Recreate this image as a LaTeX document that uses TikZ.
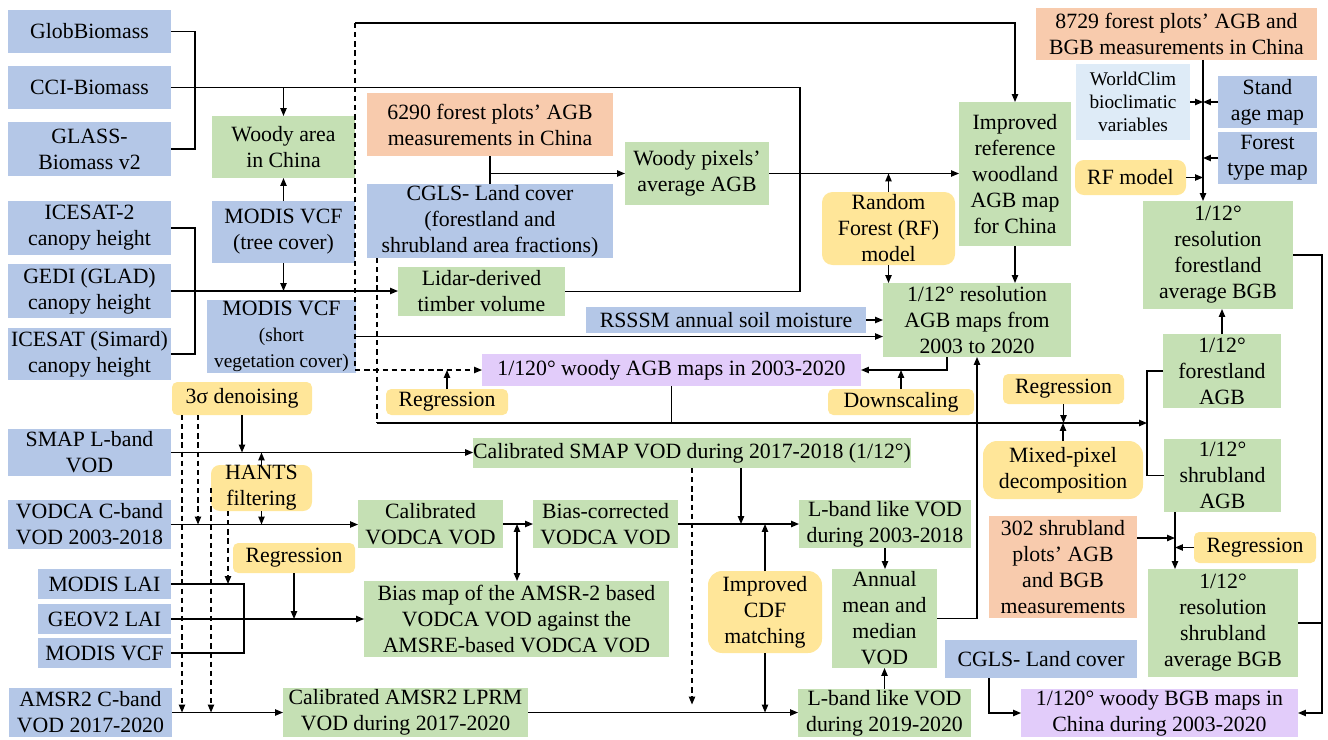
\documentclass[tikz,border=0pt]{standalone}
\usepackage{fontspec}
\setmainfont{Liberation Serif}
\usepackage{tikz}
\usetikzlibrary{arrows.meta,calc}
\usepackage{xcolor}
\definecolor{cblue}{HTML}{B4C7E7}
\definecolor{cgreen}{HTML}{C5E0B4}
\definecolor{corange}{HTML}{F8CBAD}
\definecolor{cyellow}{HTML}{FFE699}
\definecolor{cpurple}{HTML}{E2CCFA}
\definecolor{clight}{HTML}{DEEBF7}
\newcommand{\smallfnt}{\fontsize{11}{13}\selectfont}
\tikzset{
  box/.style={inner sep=0pt, outer sep=0pt, align=center},
  sz/.style 2 args={minimum width=#1*0.02cm, minimum height=#2*0.02cm},
  blubox/.style={box, fill=cblue},
  grnbox/.style={box, fill=cgreen},
  orgbox/.style={box, fill=corange},
  purbox/.style={box, fill=cpurple},
  lbbox/.style={box, fill=clight},
  ylwbox/.style={box, fill=cyellow, rounded corners=3pt},
  arr/.style={-{Triangle[length=4.5pt,width=3.6pt]}},
  arrboth/.style={{Triangle[length=4.5pt,width=3.6pt]}-{Triangle[length=4.5pt,width=3.6pt]}},
  dline/.style={dash pattern=on 3pt off 2.2pt},
  darr/.style={arr, dline},
}

\begin{document}
\begin{tikzpicture}[x=0.02cm, y=-0.02cm, line width=0.7pt, font=\fontsize{12.4}{14.8}\selectfont]
\useasboundingbox (0,0) rectangle (1328,740);
% biomass and canopy height products
\node[blubox, sz={163}{43}] (glob) at (89.5,31.5) {GlobBiomass};
\node[blubox, sz={163}{43}] (cci) at (89.5,87.5) {CCI-Biomass};
\node[blubox, sz={163}{54}] (glass) at (89.5,149) {GLASS-\\Biomass v2};
\node[blubox, sz={163}{54}] (ice2) at (89.5,228) {ICESAT-2\\canopy height};
\node[blubox, sz={163}{54}] (gedi) at (89.5,291) {GEDI (GLAD)\\canopy height};
\node[blubox, sz={163}{52}] (simard) at (89.5,354) {ICESAT (Simard)\\canopy height};
\node[grnbox, sz={143}{62}] (woody) at (283.5,147) {Woody area\\in China};
\node[blubox, sz={143}{62}] (vcft) at (283.5,232) {MODIS VCF\\(tree cover)};
\node[blubox, sz={149}{73}] (vcfs) at (281.5,336.5) {MODIS VCF\\{\smallfnt (short}\\{\smallfnt vegetation cover)}};
% AGB part
\node[orgbox, sz={246}{63}] (p6290) at (490,124.5) {6290 forest plots’ AGB\\measurements in China};
\node[blubox, sz={246}{74}] (cgls) at (490,221) {CGLS- Land cover\\(forestland and\\shrubland area fractions)};
\node[grnbox, sz={144}{63}] (wpix) at (697,173.5) {Woody pixels’\\average AGB};
\node[grnbox, sz={167}{49}] (lidar) at (481.5,291.5) {Lidar-derived\\timber volume};
\node[grnbox, sz={112}{144}] (impr) at (1015,174) {Improved\\reference\\woodland\\AGB map\\for China};
\node[ylwbox, rounded corners=6pt, sz={133}{73}] (rf) at (888.5,228.5) {Random\\Forest (RF)\\model};
\node[grnbox, sz={188}{74}] (agb12) at (977,320) {1/12° resolution\\AGB maps from\\2003 to 2020};
\node[blubox, sz={280}{26}] (rsssm) at (726,320) {RSSSM annual soil moisture};
\node[purbox, sz={379}{32}] (w120) at (671.5,370) {1/120° woody AGB maps in 2003-2020};
\node[ylwbox, sz={122}{26}] (regl) at (447,402) {Regression};
\node[ylwbox, sz={146}{26}] (down) at (901,402) {Downscaling};
% BGB part
\node[orgbox, sz={281}{52}] (p8729) at (1176.5,34) {8729 forest plots’ AGB and\\BGB measurements in China};
\node[lbbox, sz={114}{76}, font=\smallfnt] (wclim) at (1133,102) {WorldClim\\bioclimatic\\variables};
\node[blubox, sz={99}{52}] (stand) at (1267.5,102) {Stand\\age map};
\node[blubox, sz={99}{52}] (ftype) at (1267.5,158) {Forest\\type map};
\node[ylwbox, rounded corners=5pt, sz={111}{35}] (rfm) at (1130.5,177.5) {RF model};
\node[grnbox, sz={150}{108}] (fbgb) at (1218,255) {1/12°\\resolution\\forestland\\average BGB};
\node[grnbox, sz={118}{74}] (fagb) at (1222,371) {1/12°\\forestland\\AGB};
\node[grnbox, sz={117}{73}] (sagb) at (1222.5,475.5) {1/12°\\shrubland\\AGB};
\node[ylwbox, sz={121}{30}] (regm) at (1063.5,389) {Regression};
\node[ylwbox, rounded corners=8pt, sz={160}{58}] (mixed) at (1063,470) {Mixed-pixel\\decomposition};
\node[orgbox, sz={148}{102}] (p302) at (1063,567) {302 shrubland\\plots’ AGB\\and BGB\\measurements};
\node[ylwbox, sz={122}{31}] (regr) at (1255,547.5) {Regression};
\node[grnbox, sz={150}{108}] (sbgb) at (1223,623) {1/12°\\resolution\\shrubland\\average BGB};
\node[blubox, sz={192}{38}] (cgls2) at (1041,659) {CGLS- Land cover};
\node[purbox, sz={277}{48}] (bgb120) at (1159.5,713) {1/120° woody BGB maps in\\China during 2003-2020};
% VOD part
\node[ylwbox, sz={140}{33}] (denoise) at (242,398.5) {3σ denoising};
\node[blubox, sz={163}{47}] (smap) at (89.5,452.5) {SMAP L-band\\VOD};
\node[ylwbox, rounded corners=5pt, sz={101}{46}] (hants) at (261.5,488) {HANTS\\filtering};
\node[blubox, sz={163}{49}] (vodca) at (89.5,524.5) {VODCA C-band\\VOD 2003-2018};
\node[ylwbox, sz={122}{30}] (regv) at (294,558) {Regression};
\node[blubox, sz={133}{30}] (mlai) at (104.5,584) {MODIS LAI};
\node[blubox, sz={133}{30}] (geov) at (104.5,619) {GEOV2 LAI};
\node[blubox, sz={133}{30}] (mvcf) at (104.5,653) {MODIS VCF};
\node[blubox, sz={163}{49}] (amsr) at (90.5,712.5) {AMSR2 C-band\\VOD 2017-2020};
\node[grnbox, sz={430}{30}] (calsmap) at (692,453) {Calibrated SMAP VOD during 2017-2018 (1/12°)};
\node[grnbox, sz={145}{48}] (calvodca) at (430.5,524) {Calibrated\\VODCA VOD};
\node[grnbox, sz={145}{48}] (bcorr) at (605.5,524) {Bias-corrected\\VODCA VOD};
\node[grnbox, sz={305}{76}] (bias) at (516.5,619) {Bias map of the AMSR-2 based\\VODCA VOD against the\\AMSRE-based VODCA VOD};
\node[ylwbox, rounded corners=8pt, sz={114}{82}] (cdf) at (765,612) {Improved\\CDF\\matching};
\node[grnbox, sz={172}{48}] (lb0318) at (885,524) {L-band like VOD\\during 2003-2018};
\node[grnbox, sz={105}{99}] (annual) at (884.5,618.5) {Annual\\mean and\\median\\VOD};
\node[grnbox, sz={173}{48}] (lb1920) at (884.5,713) {L-band like VOD\\during 2019-2020};
\node[grnbox, sz={245}{49}] (calamsr) at (405.5,712.5) {Calibrated AMSR2 LPRM\\VOD during 2017-2020};

% junction points
\coordinate (bioj) at (195,87.5);
\coordinate (biotr) at (800,87.5);
\coordinate (lidj) at (195,291);
\coordinate (dtop) at (355,23);
\coordinate (cglsd) at (377,423);
\coordinate (brk) at (1147,423);
\coordinate (agbo) at (947,357);
\coordinate (rfx) at (1203,60);
\coordinate (shx) at (1175,512);
\coordinate (s302) at (1175,538);
\coordinate (rbx) at (1322,713);
\coordinate (cg2x) at (989,678);
\coordinate (dn1) at (182,415);
\coordinate (dn2) at (198,415);
\coordinate (hn) at (228,511);
\coordinate (laix) at (244,619);
\coordinate (bj) at (517,524);
\coordinate (smo) at (741,468);

% woody area and lidar
\draw (glob.east) -| (bioj) |- (glass.east);
\draw (cci.east) -- (biotr) |- (lidar.east);
\draw[arr] (woody.north |- cci.east) -- (woody.north);
\draw[arr] (vcft.north) -- (woody.south);
\draw[arr] (vcft.south) -- (vcft.south |- gedi.east);
\draw (ice2.east) -| (lidj) |- (simard.east);
\draw[arr] (gedi.east) -- (gedi.east -| lidar.west);
\draw[arr] (dtop) -| (impr.north);
\draw[darr] (dtop) |- (w120.west);
% AGB maps
\draw (p6290.south) -- (cgls.north);
\draw[arr] (p6290.south |- wpix.west) -- (wpix.west);
\draw[arr] (wpix.east) -- (wpix.east -| impr.west);
\draw[arr] (rf.north) -- (rf.north |- wpix.east);
\draw[arr] (rf.south) -- (rf.south |- agb12.north);
\draw[arr] (impr.south) -- (impr.south |- agb12.north);
\draw[arr] (rsssm.east) -- (rsssm.east -| agb12.west);
\draw[arr] (vcfs.east) -- (vcfs.east -| agb12.west);
\draw[arr] (agbo) |- (w120.east);
\draw[arr] (down.north) -- (down.north |- w120.east);
\draw[arr] (regl.north) -- (regl.north |- w120.west);
\draw[arr] (annual.east) -| (agb12.south);
% mixed pixels
\draw[dline] (cgls.south -| cglsd) -- (cglsd);
\draw[arr] (cglsd) -- (brk);
\draw (fagb.west) -| (brk) |- (sagb.west);
\draw (w120.south) -- (w120.south |- cglsd);
\draw[arr] (regm.south) -- (regm.south |- brk);
\draw[arr] (mixed.north) -- (mixed.north |- brk);
% BGB maps
\draw[arr] (rfx) -- (rfx |- fbgb.north);
\draw[arr] (wclim.east) -- (wclim.east -| rfx);
\draw[arr] (stand.west) -- (stand.west -| rfx);
\draw[arr] (ftype.west) -- (ftype.west -| rfx);
\draw[arr] (rfm.east) -- (rfm.east -| rfx);
\draw[arr] (fagb.north) -- (fagb.north |- fbgb.south);
\draw[arr] (shx) -- (shx |- sbgb.north);
\draw[arr] (p302.east |- s302) -- (s302);
\draw[arr] (regr.west) -- (regr.west -| shx);
\draw[arr] (fbgb.east) -| (rbx) -- (bgb120.east);
\draw (sbgb.east) -- (sbgb.east -| rbx);
\draw[arr] (cg2x) |- (bgb120.west);
% VOD chain
\draw[arr] (smap.east) -- (smap.east -| calsmap.west);
\draw[arr] (denoise.south) -- (denoise.south |- smap.east);
\draw[arr] (hants.north) -- (hants.north |- smap.east);
\draw[arr] (hants.south) -- (hants.south |- vodca.east);
\draw[arr] (vodca.east) -- (vodca.east -| calvodca.west);
\draw[darr] (dn1) -- (dn1 |- amsr.east);
\draw[darr] (dn2) -- (dn2 |- vodca.east);
\draw[darr] (hants.west) -- (hants.west |- amsr.east);
\draw[darr] (hn) -- (hn |- mlai.east);
\draw (mlai.east) -| (laix) |- (mvcf.east);
\draw[arr] (geov.east) -- (geov.east -| bias.west);
\draw[arr] (regv.south) -- (regv.south |- geov.east);
\draw[arr] (calvodca.east) -- (calvodca.east -| bcorr.west);
\draw[arrboth] (bj) -- (bj |- bias.north);
\draw[arr] (bcorr.east) -- (bcorr.east -| lb0318.west);
\draw[arr] (smo) -- (smo |- bcorr.east);
\draw[darr] (calsmap.south) -- ($(calsmap.south |- amsr.east)+(0,-8)$);
\draw[arr] (cdf.north) -- (cdf.north |- bcorr.east);
\draw[arr] (cdf.south) -- (cdf.south |- amsr.east);
\draw[arr] (lb0318.south) -- (lb0318.south |- annual.north);
\draw[arr] (lb1920.north) -- (lb1920.north |- annual.south);
\draw[arr] (amsr.east) -- (amsr.east -| calamsr.west);
\draw[arr] (calamsr.east) -- (calamsr.east -| lb1920.west);
\end{tikzpicture}
\end{document}
